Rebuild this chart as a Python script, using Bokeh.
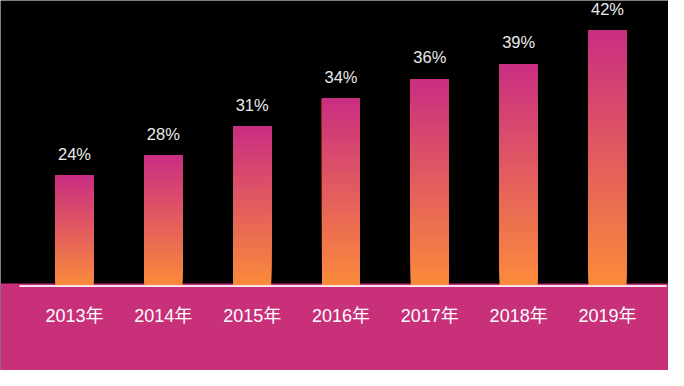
import numpy as np
from bokeh.plotting import figure
from bokeh.models import Range1d, BoxAnnotation, ColumnDataSource
from bokeh.core.properties import value
from bokeh.embed import file_html
from bokeh.resources import INLINE

# ---- data ----
years = ["2013年", "2014年", "2015年", "2016年", "2017年", "2018年", "2019年"]
labels = ["24%", "28%", "31%", "34%", "36%", "39%", "42%"]
# bar heights (percent, on the chart's own axis)
bar_values = [24.72, 27.17, 30.72, 34.15, 36.48, 38.32, 42.48]
axis_base = 11.25   # value at which the bars start

# ---- style ----
TOP_COLOR = (201, 46, 130)
BOTTOM_COLOR = (251, 139, 59)
BAND_COLOR = "#C8307A"

W, H = 668, 370
PX_PER_X = 88.83
X_START = -0.333
X_END = X_START + W / PX_PER_X
PX_PER_Y = 8.165
BASE_PX = 285
Y_END = axis_base + BASE_PX / PX_PER_Y
Y_START = axis_base - (H - BASE_PX) / PX_PER_Y

p = figure(width=W, height=H, output_backend="svg", toolbar_location=None,
           x_range=Range1d(X_START, X_END),
           y_range=Range1d(Y_START, Y_END),
           background_fill_color="black", border_fill_color="black",
           outline_line_color=None, min_border=0)
p.xaxis.visible = False
p.yaxis.visible = False
p.xgrid.visible = False
p.ygrid.visible = False

# category positions (one slot per year)
xpos = np.arange(len(years)) + 0.5

# bottom band
band = BoxAnnotation(top=axis_base + 0.245, bottom=None, left=None, right=None,
                     fill_color=BAND_COLOR, fill_alpha=1.0, line_color=None,
                     level="underlay")
p.add_layout(band)

# gradient bars built from stacked slices (each slice reaches the bar top,
# later slices cover the upper part so no seams appear)
n = 80
xs, bots, tops, cols = [], [], [], []
for x, v in zip(xpos, bar_values):
    edges = np.linspace(axis_base, v, n + 1)
    for j in range(n):
        t = (j + 0.5) / n
        c = tuple(int(round(BOTTOM_COLOR[k] + (TOP_COLOR[k] - BOTTOM_COLOR[k]) * t)) for k in range(3))
        xs.append(x)
        bots.append(edges[j])
        tops.append(v)
        cols.append("#%02x%02x%02x" % c)
p.vbar(x=xs, bottom=bots, top=tops, width=38 / PX_PER_X, fill_color=cols, line_color=None)

# white baseline line
p.segment(x0=[X_START + 19 / PX_PER_X], x1=[X_START + 666 / PX_PER_X],
          y0=[axis_base - 0.06], y1=[axis_base - 0.06],
          line_color="#F6E3EC", line_width=2)

# value labels
src = ColumnDataSource(dict(x=xpos, y=bar_values, t=labels))
p.text(x="x", y="y", text="t", source=src, text_align="center",
       text_baseline="middle", y_offset=-22, text_color="#EAEAEA",
       text_font=value("Liberation Sans"), text_font_size="16.5px")

# year labels inside the band
src2 = ColumnDataSource(dict(x=xpos, y=[axis_base] * len(years), t=years))
p.text(x="x", y="y", text="t", source=src2, text_align="center",
       text_baseline="middle", y_offset=30, text_color="white",
       text_font=value("Liberation Sans, Noto Sans CJK SC"), text_font_size="18px")

open("out.html", "w").write(file_html(p, INLINE))
